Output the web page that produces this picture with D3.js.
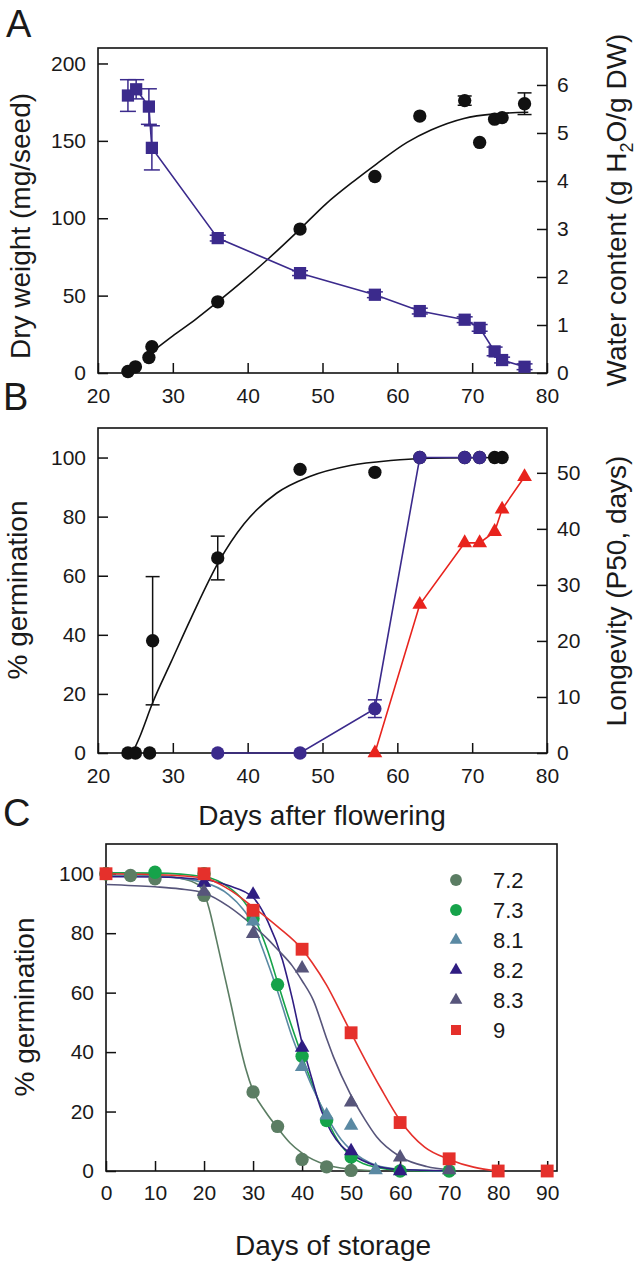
<!DOCTYPE html>
<html><head><meta charset="utf-8">
<script src="https://cdn.jsdelivr.net/npm/d3@7"></script>
<style>
body{margin:0;background:#fff}
text{font-family:"Liberation Sans",Arial,Helvetica,sans-serif;fill:#1a1a1a}
</style>
</head><body>
<svg id="chart" width="636" height="1267"></svg>
<script>
// ---------- Panel A data ----------
const daysA = [24, 25, 26.8, 27.2, 36, 47, 57, 63, 69, 71, 73, 74, 77];
const dryWeight = [1, 4, 10, 17, 46, 93, 127, 166, 176, 149, 164, 165, 174];
const dryWeightErr = [0, 0, 0, 0, 0, 0, 0, 0, 3, 0, 0, 0, 7];
const waterDays = [24, 25.1, 26.8, 27.2, 36, 47, 57, 63, 69, 71, 73, 74, 77];
const waterContent = [5.78, 5.91, 5.55, 4.69, 2.81, 2.08, 1.63, 1.29, 1.11, 0.94, 0.45, 0.27, 0.13];
const waterErr = [0.33, 0.2, 0.37, 0.46, 0.06, 0.05, 0.06, 0.06, 0.06, 0.07, 0.09, 0.06, 0.06];
const dryFitX = [27.3, 30, 33, 36, 39.5, 42.8, 47, 50.4, 54.2, 57.2, 61.3, 64.5, 68.9, 73.2, 77.5];
const dryFitY = [14, 24, 34.5, 46, 60, 74, 93, 109, 124, 135, 149, 157, 164.5, 167.5, 168.5];
const xTicksAB = [20, 30, 40, 50, 60, 70, 80];
const yTicksA = [0, 50, 100, 150, 200];
const yTicksAR = [0, 1, 2, 3, 4, 5, 6];

// ---------- Panel B data ----------
const germDays = [24, 25, 26.9, 27.3, 36, 47, 57, 63, 69, 71, 73, 74];
const germination = [0, 0, 0, 38, 66, 96, 95, 100, 100, 100, 100, 100];
const germErr = [0, 0, 0, 21.7, 7.4, 0, 0, 0, 0, 0, 0, 0];
const germFitX = [24.6, 25.5, 27.3, 29.8, 32.5, 36.2, 39.5, 43.9, 48.2, 53.7, 59.1, 63.4, 74];
const germFitY = [0, 5, 17, 31, 46, 65, 77.5, 88, 93.5, 97.3, 99, 99.7, 100];
const desicDays = [36, 47, 57, 63, 69, 71];
const desicTol = [0, 0, 15, 100, 100, 100];
const desicErr = [0, 0, 3, 0, 0, 0];
const p50Days = [57, 63, 69, 71, 73, 74, 77];
const p50 = [0, 26.5, 37.5, 37.5, 39.5, 43.5, 49.3];
const yTicksB = [0, 20, 40, 60, 80, 100];
const yTicksBR = [0, 10, 20, 30, 40, 50];

// ---------- Panel C data ----------
const seriesNames = ["7.2", "7.3", "8.1", "8.2", "8.3", "9"];
const seriesColors = ["#5b7d63", "#16a34a", "#5a89a3", "#2f1d82", "#57557b", "#e5302b"];
const seriesShapes = ["circle", "circle", "triangle", "triangle", "triangle", "square"];
const days72 = [0, 5, 10, 20, 30, 35, 40, 45, 50];
const germ72 = [100, 99.4, 98.3, 92.7, 26.6, 15, 3.9, 1.4, 0.2];
const days73 = [0, 10, 20, 30, 35, 40, 45, 50, 60, 70];
const germ73 = [100, 100.5, 100, 84.9, 62.7, 38.6, 17, 4.7, 0, 0];
const days81 = [20, 30, 40, 45, 50, 55];
const germ81 = [97, 84, 35, 18.7, 15.3, 0.3];
const days82 = [20, 30, 40, 50, 60];
const germ82 = [97, 93, 41.5, 6.7, 0];
const days83 = [20, 30, 40, 50, 60, 70];
const germ83 = [94, 79.8, 68.2, 23.1, 4.6, 0.3];
const days9 = [0, 20, 30, 40, 50, 60, 70, 80, 90];
const germ9 = [100, 100, 87.7, 74.6, 46.5, 16.3, 4.1, 0, 0];
const fit72X = [0, 10, 15, 18, 19, 20, 21, 22.5, 24, 25.5, 27, 28.5, 30, 32.5, 35, 37.5, 40, 45, 50, 55];
const fit72Y = [99.5, 99.3, 98.5, 97, 96, 93.5, 88.5, 78, 67, 56, 44.5, 34.5, 27, 20, 14.5, 9.5, 6, 2, 0.6, 0.1];
const fit73X = [0, 10, 20, 25, 28, 30, 33, 35, 37, 40, 42, 45, 48, 50, 55, 60, 70];
const fit73Y = [100.3, 100.2, 99, 95.5, 91, 86, 74, 63.5, 53, 38.6, 29.5, 17.5, 8.5, 5, 1.3, 0.3, 0];
const fit81X = [0, 10, 20, 25, 28, 30, 32, 35, 38, 40, 42, 45, 48, 50, 55, 60, 70];
const fit81Y = [99.5, 99.2, 97, 93, 88, 83, 74.5, 60.5, 45, 36.5, 28.5, 18.5, 10.5, 7, 2, 0.6, 0];
const fit82X = [0, 10, 20, 25, 30, 33, 36, 38, 40, 42, 44, 46, 48, 50, 55, 60, 70];
const fit82Y = [99, 98.9, 98, 96, 92, 84, 71, 58, 43, 31, 20, 13, 8.5, 5.8, 1.8, 0.5, 0.1];
const fit83X = [0, 10, 15, 20, 25, 30, 33, 35, 38, 40, 42.3, 45, 46.4, 49.8, 52.9, 55.2, 60, 65.4, 70];
const fit83Y = [96.4, 95.6, 94.9, 93.5, 89, 82.5, 78, 74.5, 69, 64, 57.4, 44.6, 38.4, 26, 17.1, 11.5, 4.8, 1.5, 0.4];
const fit9X = [0, 10, 20, 25, 30, 35, 40, 42, 45, 48, 50, 53, 56, 60, 65, 70, 75, 80];
const fit9Y = [100, 99.7, 98.6, 94.8, 88.8, 82.2, 74.6, 70.2, 62.5, 53, 46.5, 37, 28, 17, 8, 3.9, 1.3, 0];
const xTicksC = [0, 10, 20, 30, 40, 50, 60, 70, 80, 90];
const yTicksC = [0, 20, 40, 60, 80, 100];

const pointsC = [[days72, germ72], [days73, germ73], [days81, germ81], [days82, germ82], [days83, germ83], [days9, germ9]];
const fitsC = [[fit72X, fit72Y], [fit73X, fit73Y], [fit81X, fit81Y], [fit82X, fit82Y], [fit83X, fit83Y], [fit9X, fit9Y]];

const PURPLE = "#3b2a8c", BLACK = "#111", RED = "#e8231d";
const zip = (xs, ys) => xs.map((x, i) => [x, ys[i]]);
const svg = d3.select("#chart");
const TICK_FS = 21, TITLE_FS = 28;

function symbolPath(shape, size) {
  const t = shape === "circle" ? d3.symbolCircle : shape === "square" ? d3.symbolSquare : d3.symbolTriangle;
  return d3.symbol().type(t).size(size)();
}

function frame(x0, x1, y0, y1) {
  svg.append("rect").attr("x", x0).attr("y", y0).attr("width", x1 - x0).attr("height", y1 - y0)
    .attr("fill", "none").attr("stroke", "#111").attr("stroke-width", 1.6);
}
function styleAxis(g) {
  g.select(".domain").remove();
  g.selectAll(".tick line").attr("stroke", "#111").attr("stroke-width", 1.5);
  g.selectAll(".tick text").attr("font-size", TICK_FS).attr("font-family", "Liberation Sans, Arial, sans-serif").attr("fill", "#1a1a1a");
}
function bottomAxis(x, y0, ticks, pad) {
  svg.append("g").attr("transform", `translate(0,${y0})`)
    .call(d3.axisBottom(x).tickValues(ticks).tickSize(-10).tickSizeOuter(0).tickPadding(pad).tickFormat(d3.format("d")))
    .call(styleAxis);
}
function leftAxis(y, x0, ticks) {
  svg.append("g").attr("transform", `translate(${x0},0)`)
    .call(d3.axisLeft(y).tickValues(ticks).tickSize(-10).tickSizeOuter(0).tickPadding(12).tickFormat(d3.format("d")))
    .call(styleAxis);
}
function rightAxis(y, x0, ticks) {
  svg.append("g").attr("transform", `translate(${x0},0)`)
    .call(d3.axisRight(y).tickValues(ticks).tickSize(-10).tickSizeOuter(0).tickPadding(10).tickFormat(d3.format("d")))
    .call(styleAxis);
}
function vTitle(x, y, txt) {
  return svg.append("text").attr("transform", `translate(${x},${y}) rotate(-90)`)
    .attr("text-anchor", "middle").attr("font-size", TITLE_FS).text(txt);
}
function errBars(data, x, y, color, cap) {
  const g = svg.append("g").attr("stroke", color).attr("stroke-width", 1.5);
  data.filter(d => d[2] > 0).forEach(d => {
    const xx = x(d[0]), yt = y(d[1] + d[2]), yb = y(d[1] - d[2]);
    g.append("line").attr("x1", xx).attr("x2", xx).attr("y1", yt).attr("y2", yb);
    g.append("line").attr("x1", xx - cap).attr("x2", xx + cap).attr("y1", yt).attr("y2", yt);
    g.append("line").attr("x1", xx - cap).attr("x2", xx + cap).attr("y1", yb).attr("y2", yb);
  });
}
function marks(data, x, y, shape, size, color) {
  svg.append("g").selectAll("path").data(data).join("path")
    .attr("transform", d => `translate(${x(d[0])},${y(d[1])})`)
    .attr("d", symbolPath(shape, size)).attr("fill", color);
}
function line(data, x, y, color, w, curve) {
  svg.append("path").datum(data)
    .attr("d", d3.line().x(d => x(d[0])).y(d => y(d[1])).curve(curve || d3.curveLinear))
    .attr("fill", "none").attr("stroke", color).attr("stroke-width", w);
}
function letter(x, y, t) {
  svg.append("text").attr("x", x).attr("y", y).attr("font-size", 38).text(t);
}

// ================= Panel A =================
{
  const L = 98, R = 547, T = 48, B = 373;
  const x = d3.scaleLinear().domain([20, 80]).range([L, R]);
  const yL = d3.scaleLinear().domain([0, 210]).range([B, T]);
  const yR = d3.scaleLinear().domain([0, 6.77]).range([B, T]);
  frame(L, R, T, B);
  bottomAxis(x, B, xTicksAB, 15);
  leftAxis(yL, L, yTicksA);
  rightAxis(yR, R, yTicksAR);
  line(zip(dryFitX, dryFitY), x, yL, BLACK, 1.6, d3.curveMonotoneX);
  const wc = waterDays.map((d, i) => [d, waterContent[i], waterErr[i]]);
  line(wc, x, yR, PURPLE, 1.6);
  errBars(wc, x, yR, PURPLE, 8);
  marks(wc, x, yR, "square", 150, PURPLE);
  const dw = daysA.map((d, i) => [d, dryWeight[i], dryWeightErr[i]]);
  errBars(dw, x, yL, BLACK, 7);
  marks(dw, x, yL, "circle", 140, BLACK);
  vTitle(30, 226, "Dry weight (mg/seed)");
  const t = svg.append("text").attr("transform", `translate(626,210) rotate(-90)`)
    .attr("text-anchor", "middle").attr("font-size", TITLE_FS);
  t.append("tspan").text("Water content (g H");
  t.append("tspan").attr("font-size", 18).attr("dy", 7).text("2");
  t.append("tspan").attr("dy", -7).text("O/g DW)");
  letter(6, 37, "A");
}

// ================= Panel B =================
{
  const L = 98, R = 547, T = 428, B = 753;
  const x = d3.scaleLinear().domain([20, 80]).range([L, R]);
  const yL = d3.scaleLinear().domain([0, 110]).range([B, T]);
  const yR = d3.scaleLinear().domain([0, 58]).range([B, T]);
  frame(L, R, T, B);
  bottomAxis(x, B, xTicksAB, 15);
  leftAxis(yL, L, yTicksB);
  rightAxis(yR, R, yTicksBR);
  line(zip(germFitX, germFitY), x, yL, BLACK, 1.6, d3.curveMonotoneX);
  const g = germDays.map((d, i) => [d, germination[i], germErr[i]]);
  errBars(g, x, yL, BLACK, 7);
  marks(g, x, yL, "circle", 140, BLACK);
  const dt = desicDays.map((d, i) => [d, desicTol[i], desicErr[i]]);
  line(dt, x, yL, PURPLE, 1.6);
  errBars(dt, x, yL, PURPLE, 7);
  marks(dt, x, yL, "circle", 140, PURPLE);
  const pp = zip(p50Days, p50);
  line(pp, x, yR, RED, 1.6);
  marks(pp, x, yR, "triangle", 95, RED);
  vTitle(27, 590, "% germination");
  svg.append("text").attr("transform", `translate(626,591) rotate(-90)`)
    .attr("text-anchor", "middle").attr("font-size", TITLE_FS).text("Longevity (P50, days)");
  svg.append("text").attr("x", 322).attr("y", 825).attr("text-anchor", "middle")
    .attr("font-size", TITLE_FS).text("Days after flowering");
  letter(3, 410, "B");
}

// ================= Panel C =================
{
  const L = 106, R = 557, T = 844, B = 1171;
  const x = d3.scaleLinear().domain([0, 92]).range([L, R]);
  const y = d3.scaleLinear().domain([0, 110]).range([B, T]);
  frame(L, R, T, B);
  bottomAxis(x, B, xTicksC, 14);
  leftAxis(y, L, yTicksC);
  fitsC.forEach((f, i) => line(zip(f[0], f[1]), x, y, seriesColors[i], 1.6, d3.curveMonotoneX));
  pointsC.forEach((p, i) => {
    const sz = seriesShapes[i] === "triangle" ? 90 : seriesShapes[i] === "square" ? 165 : 140;
    marks(zip(p[0], p[1]), x, y, seriesShapes[i], sz, seriesColors[i]);
  });
  // legend
  seriesNames.forEach((n, i) => {
    const yy = 880 + i * 30;
    const sz = seriesShapes[i] === "triangle" ? 70 : seriesShapes[i] === "square" ? 100 : 110;
    svg.append("path").attr("transform", `translate(456,${yy})`)
      .attr("d", symbolPath(seriesShapes[i], sz)).attr("fill", seriesColors[i]);
    svg.append("text").attr("x", 493).attr("y", yy + 8).attr("font-size", 22).text(n);
  });
  vTitle(34, 1007, "% germination");
  svg.append("text").attr("x", 333).attr("y", 1255).attr("text-anchor", "middle")
    .attr("font-size", TITLE_FS).text("Days of storage");
  letter(3, 826, "C");
}
</script>
</body></html>
